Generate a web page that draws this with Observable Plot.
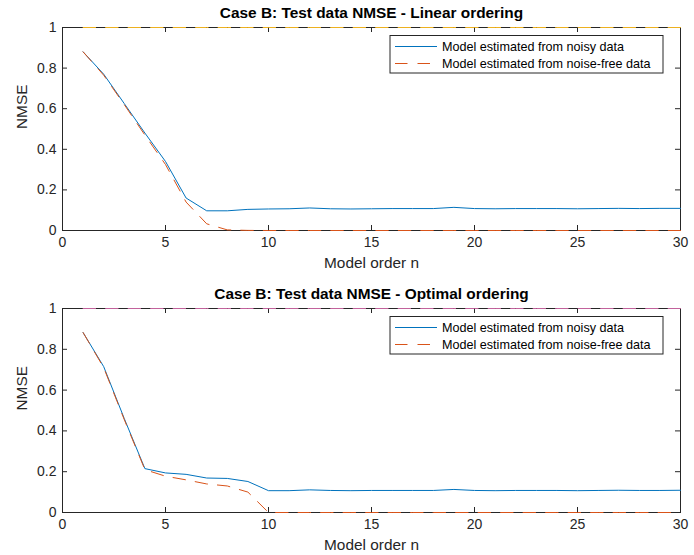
<!DOCTYPE html>
<html>
<head>
<meta charset="utf-8">
<script src="https://cdn.jsdelivr.net/npm/d3@7"></script>
<script src="https://cdn.jsdelivr.net/npm/@observablehq/plot@0.6"></script>
<style>
  html, body { margin: 0; padding: 0; background: #fff; }
  #chart svg { display: block; }
</style>
</head>
<body>
<div id="chart"></div>
<script>
const orders = [1,2,3,4,5,6,7,8,9,10,11,12,13,14,15,16,17,18,19,20,21,22,23,24,25,26,27,28,29,30];

const noisyLinear = [0.880,0.770,0.625,0.480,0.340,0.160,0.097,0.097,0.104,0.106,0.107,0.111,0.107,0.106,0.107,0.108,0.108,0.108,0.114,0.108,0.107,0.108,0.108,0.108,0.107,0.108,0.109,0.108,0.109,0.109];
const freeLinear  = [0.880,0.765,0.620,0.470,0.325,0.140,0.033,0.003,0.0005,0,0,0,0,0,0,0,0,0,0,0,0,0,0,0,0,0,0,0,0,0];
const refLinear   = [1,1,1,1,1,1,1,1,1,1,1,1,1,1,1,1,1,1,1,1,1,1,1,1,1,1,1,1,1,1];

const noisyOptimal = [0.882,0.715,0.460,0.215,0.194,0.187,0.169,0.167,0.152,0.107,0.107,0.111,0.108,0.107,0.108,0.108,0.108,0.108,0.113,0.108,0.107,0.108,0.108,0.108,0.107,0.108,0.109,0.108,0.108,0.109];
const freeOptimal  = [0.882,0.710,0.455,0.210,0.178,0.160,0.140,0.130,0.100,0,0,0,0,0,0,0,0,0,0,0,0,0,0,0,0,0,0,0,0,0];
const refOptimal   = [1,1,1,1,1,1,1,1,1,1,1,1,1,1,1,1,1,1,1,1,1,1,1,1,1,1,1,1,1,1];

const xTicks = [0,5,10,15,20,25,30];
const yTicks = [0,0.2,0.4,0.6,0.8,1];
const legendLabels = ["Model estimated from noisy data", "Model estimated from noise-free data"];

const BLUE = "#0072BD", ORANGE = "#D95319";
const AX = "#262626";
const DASH = "12.5,10";
const FONT = "'Liberation Sans', Arial, Helvetica, sans-serif";

function panel({title, noisy, free, ref, refColor, height, marginTop, marginBottom}) {
  const W = 694, mL = 62, mR = 14;
  const fw = W - mL - mR, fh = height - marginTop - marginBottom;
  const rows = orders.map((n, i) => ({n, noisy: noisy[i], free: free[i], ref: ref[i]}));
  const svg = Plot.plot({
    width: W, height, marginLeft: mL, marginRight: mR, marginTop, marginBottom,
    style: {fontFamily: FONT, fontSize: "14px", color: AX, background: "#fff", overflow: "visible"},
    x: {domain: [0, 30]},
    y: {domain: [0, 1]},
    marks: [
      Plot.frame({stroke: AX, strokeWidth: 1}),
      // inward ticks on all four sides
      Plot.tickX(xTicks, {x: d => d, stroke: AX, insetTop: fh - 5}),
      Plot.tickX(xTicks, {x: d => d, stroke: AX, insetBottom: fh - 5}),
      Plot.tickY(yTicks, {y: d => d, stroke: AX, insetRight: fw - 5}),
      Plot.tickY(yTicks, {y: d => d, stroke: AX, insetLeft: fw - 5}),
      Plot.axisX(xTicks, {anchor: "bottom", tickSize: 0, tickPadding: 7, label: null, fontSize: 14, fill: AX}),
      Plot.axisY(yTicks, {anchor: "left", tickSize: 0, tickPadding: 6, label: null, fontSize: 14, fill: AX, tickFormat: d => String(d)}),
      // series
      Plot.line(rows, {x: "n", y: "ref", stroke: refColor, strokeWidth: 1, strokeDasharray: DASH}),
      Plot.line(rows, {x: "n", y: "noisy", stroke: BLUE, strokeWidth: 1}),
      Plot.line(rows, {x: "n", y: "free", stroke: ORANGE, strokeWidth: 1, strokeDasharray: DASH}),
      // labels
      Plot.text([title], {frameAnchor: "top", dy: -14, lineAnchor: "middle", fontWeight: "bold", fontSize: 15.4, fill: "#000"}),
      Plot.text(["Model order n"], {frameAnchor: "bottom", dy: 33, lineAnchor: "middle", fontSize: 15.4, fill: AX}),
      Plot.text(["NMSE"], {frameAnchor: "left", dx: -40, rotate: -90, lineAnchor: "middle", fontSize: 15.4, fill: AX})
    ]
  });

  // legend box
  const g = d3.select(svg).append("g").attr("font-family", FONT).attr("font-size", 12.6).attr("text-anchor", "start");
  const bx = 390, by = marginTop + 8.5, bw = 273, bh = 37.5;
  g.append("rect").attr("x", bx).attr("y", by).attr("width", bw).attr("height", bh)
    .attr("fill", "#fff").attr("stroke", AX).attr("stroke-width", 1);
  const entries = [{c: BLUE, dash: null}, {c: ORANGE, dash: DASH}];
  entries.forEach((e, i) => {
    const yy = by + 11 + i * 17;
    const ln = g.append("line").attr("x1", bx + 5).attr("x2", bx + 47).attr("y1", yy).attr("y2", yy)
      .attr("stroke", e.c).attr("stroke-width", 1);
    if (e.dash) ln.attr("stroke-dasharray", e.dash);
    g.append("text").attr("x", bx + 52).attr("y", yy).attr("dy", "0.35em").attr("fill", "#000")
      .attr("text-anchor", "start").text(legendLabels[i]);
  });
  return svg;
}

const chart = document.getElementById("chart");
chart.appendChild(panel({
  title: "Case B: Test data NMSE - Linear ordering",
  noisy: noisyLinear, free: freeLinear, ref: refLinear, refColor: "#EDB120",
  height: 277, marginTop: 27, marginBottom: 47
}));
chart.appendChild(panel({
  title: "Case B: Test data NMSE - Optimal ordering",
  noisy: noisyOptimal, free: freeOptimal, ref: refOptimal, refColor: "#C2629C",
  height: 278, marginTop: 31, marginBottom: 43
}));
</script>
</body>
</html>
